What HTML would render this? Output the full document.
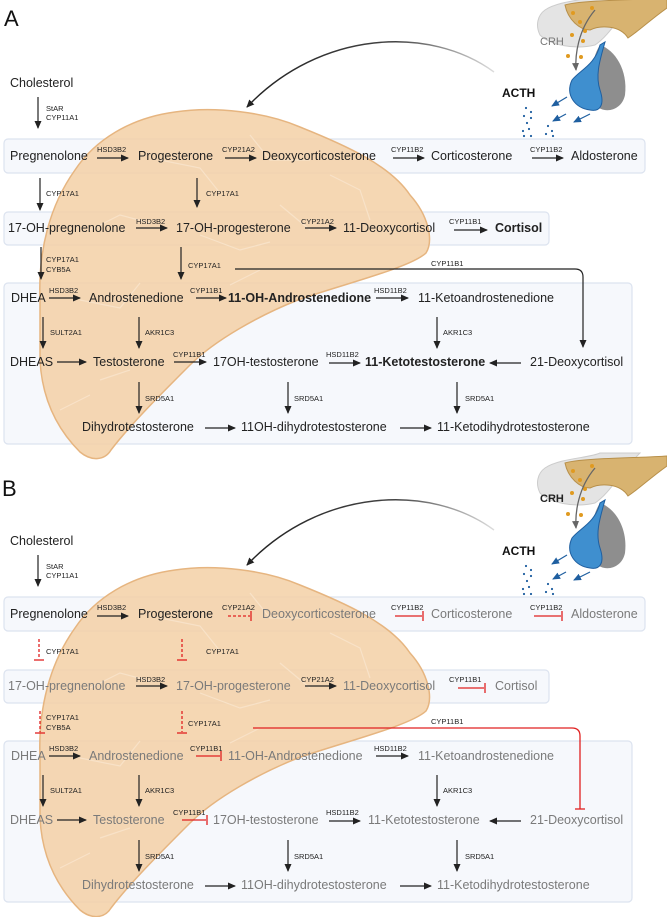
<!DOCTYPE html>
<html><head><meta charset="utf-8"><style>
html,body{margin:0;padding:0;background:#fff;overflow:hidden}
svg{display:block}
text{font-family:"Liberation Sans",Arial,sans-serif}
.n{font-size:12.5px;fill:#222}
.b{font-weight:bold}
.e{font-size:7.5px;fill:#222}
.g{fill:#7a7a7a}
</style></head><body>
<svg width="667" height="917" viewBox="0 0 667 917" xmlns="http://www.w3.org/2000/svg">
<defs>
<marker id="ah" markerWidth="8" markerHeight="8" refX="7" refY="4" orient="auto" markerUnits="userSpaceOnUse"><path d="M0,0.5 L8,4 L0,7.5 z" fill="#222"/></marker>
<marker id="bh" markerWidth="8" markerHeight="8" refX="7" refY="4" orient="auto" markerUnits="userSpaceOnUse"><path d="M0,0.5 L8,4 L0,7.5 z" fill="#1f5fa0"/></marker>
<marker id="gh" markerWidth="8" markerHeight="8" refX="7" refY="4" orient="auto" markerUnits="userSpaceOnUse"><path d="M0,0.5 L8,4 L0,7.5 z" fill="#666"/></marker>
<linearGradient id="cg" x1="0" x2="1"><stop offset="0" stop-color="#222"/><stop offset="0.6" stop-color="#444"/><stop offset="1" stop-color="#ddd"/></linearGradient>

<g id="boxes">
<rect x="4" y="139" width="641" height="34" rx="4" fill="#f6f8fc" stroke="#dce3ef" stroke-width="1.2"/>
<rect x="4" y="212" width="545" height="33" rx="4" fill="#f6f8fc" stroke="#dce3ef" stroke-width="1.2"/>
<rect x="4" y="283" width="628" height="161" rx="4" fill="#f6f8fc" stroke="#dce3ef" stroke-width="1.2"/>
</g>
<g id="blob">
<path d="M40,300 C38,250 50,205 75,170 C95,140 130,118 175,112 C215,106 265,112 300,127 C345,145 390,165 410,195 C428,215 434,240 426,253 C410,268 340,285 298,300 C260,315 215,340 190,365 C160,395 130,425 111,450 C105,460 92,462 80,452 C58,430 42,400 40,360 Z" fill="#f3d0a6" fill-opacity="0.85" stroke="#e6b580" stroke-width="1.5"/>
<path d="M90,230 l30,-15 30,8 M160,160 l40,8 20,25 M250,135 l20,25 40,0 M330,175 l30,15 10,30 M80,300 l40,8 20,-25 M100,380 l30,-10 M200,235 l40,15 30,-8 M280,205 l30,25 M60,410 l30,-15 M230,285 l30,-15" stroke="#f8e2c8" stroke-width="1.2" fill="none"/>
</g>
<g id="pit">
<path d="M545,10 C560,0 590,0 600,-5 L640,-5 C620,15 610,35 595,45 C575,50 550,45 540,35 C535,25 538,15 545,10 Z" fill="#e4e4e4" stroke="#ccc"/>
<path d="M565,5 C580,0 640,0 667,-2 L667,8 C650,20 640,30 628,38 C620,25 600,25 590,30 C580,30 568,20 565,5 Z" fill="#d8b370" stroke="#b8904a"/>
<path d="M600,45 C615,50 628,70 625,95 C622,110 605,115 595,105 C588,90 590,60 600,45 Z" fill="#8e8e8e"/>
<path d="M605,42 C600,60 595,75 600,90 C605,105 600,112 590,110 C575,108 565,95 572,80 C580,70 595,65 600,45 Z" fill="#3f8fcf" stroke="#1f5fa0"/>
<circle cx="573" cy="13" r="2" fill="#e09a20"/><circle cx="580" cy="22" r="2" fill="#e09a20"/><circle cx="572" cy="35" r="2" fill="#e09a20"/><circle cx="583" cy="41" r="2" fill="#e09a20"/><circle cx="568" cy="56" r="2" fill="#e09a20"/><circle cx="581" cy="57" r="2" fill="#e09a20"/><circle cx="592" cy="8" r="2" fill="#e09a20"/><circle cx="585" cy="31" r="2" fill="#e09a20"/>
<path d="M595,10 C578,30 575,55 576,70" stroke="#666" stroke-width="1.3" fill="none" marker-end="url(#gh)"/>
<g stroke="#1f5fa0" stroke-width="1.2" marker-end="url(#bh)"><line x1="567" y1="97" x2="552" y2="106"/><line x1="566" y1="114" x2="553" y2="121"/><line x1="590" y1="114" x2="574" y2="122"/></g>
<g fill="#1f5fa0"><circle cx="526" cy="108" r="1.1"/><circle cx="531" cy="112" r="1.1"/><circle cx="524" cy="116" r="1.1"/><circle cx="531" cy="118" r="1.1"/><circle cx="527" cy="123" r="1.1"/><circle cx="523" cy="131" r="1.1"/><circle cx="529" cy="129" r="1.1"/><circle cx="531" cy="136" r="1.1"/><circle cx="524" cy="136" r="1.1"/><circle cx="548" cy="126" r="1.1"/><circle cx="552" cy="131" r="1.1"/><circle cx="546" cy="134" r="1.1"/><circle cx="553" cy="136" r="1.1"/></g>
<text x="502" y="97" font-size="12" font-weight="bold" fill="#111">ACTH</text>
<path d="M494,72 C430,25 320,30 247,107" stroke="url(#cg)" stroke-width="1.4" fill="none" marker-end="url(#ah)"/>
</g>

<g id="ea">
<text class="e" x="46" y="111">StAR</text><text class="e" x="46" y="120">CYP11A1</text>
<text class="e" x="97" y="152">HSD3B2</text><text class="e" x="222" y="152">CYP21A2</text><text class="e" x="391" y="152">CYP11B2</text><text class="e" x="530" y="152">CYP11B2</text>
<text class="e" x="46" y="196">CYP17A1</text><text class="e" x="206" y="196">CYP17A1</text>
<text class="e" x="136" y="224">HSD3B2</text><text class="e" x="301" y="224">CYP21A2</text><text class="e" x="449" y="224">CYP11B1</text>
<text class="e" x="46" y="262">CYP17A1</text><text class="e" x="46" y="272">CYB5A</text><text class="e" x="188" y="268">CYP17A1</text><text class="e" x="431" y="266">CYP11B1</text>
<text class="e" x="49" y="293">HSD3B2</text><text class="e" x="190" y="293">CYP11B1</text><text class="e" x="374" y="293">HSD11B2</text>
<text class="e" x="50" y="335">SULT2A1</text><text class="e" x="145" y="335">AKR1C3</text><text class="e" x="443" y="335">AKR1C3</text>
<text class="e" x="173" y="357">CYP11B1</text><text class="e" x="326" y="357">HSD11B2</text>
<text class="e" x="145" y="401">SRD5A1</text><text class="e" x="294" y="401">SRD5A1</text><text class="e" x="465" y="401">SRD5A1</text>
</g>
</defs>

<!-- PANEL A -->
<text x="4" y="26" font-size="22" fill="#111">A</text>
<use href="#boxes"/><use href="#blob"/><use href="#pit"/>
<text x="540" y="45" font-size="11" fill="#777">CRH</text>
<g stroke="#222" stroke-width="1.2" marker-end="url(#ah)">
<line x1="38" y1="97" x2="38" y2="128"/>
<line x1="97" y1="158" x2="128" y2="158"/><line x1="225" y1="158" x2="256" y2="158"/><line x1="393" y1="158" x2="424" y2="158"/><line x1="532" y1="158" x2="563" y2="158"/>
<line x1="40" y1="178" x2="40" y2="210"/><line x1="197" y1="178" x2="197" y2="207"/>
<line x1="136" y1="228" x2="167" y2="228"/><line x1="305" y1="228" x2="336" y2="228"/><line x1="454" y1="230" x2="487" y2="230"/>
<line x1="41" y1="247" x2="41" y2="279"/><line x1="181" y1="247" x2="181" y2="279"/>
<line x1="49" y1="298" x2="80" y2="298"/><line x1="196" y1="298" x2="226" y2="298"/><line x1="376" y1="298" x2="408" y2="298"/>
<line x1="43" y1="317" x2="43" y2="348"/><line x1="139" y1="317" x2="139" y2="348"/><line x1="437" y1="317" x2="437" y2="348"/>
<line x1="57" y1="362" x2="86" y2="362"/><line x1="174" y1="362" x2="206" y2="362"/><line x1="329" y1="363" x2="360" y2="363"/><line x1="521" y1="363" x2="490" y2="363"/>
<line x1="139" y1="382" x2="139" y2="413"/><line x1="288" y1="382" x2="288" y2="413"/><line x1="457" y1="382" x2="457" y2="413"/>
<line x1="205" y1="428" x2="235" y2="428"/><line x1="400" y1="428" x2="431" y2="428"/>
<path d="M235,269 L575,269 Q583,269 583,277 L583,347" fill="none"/>
</g>
<use href="#ea"/>
<g>
<text class="n" x="10" y="87">Cholesterol</text>
<text class="n" x="10" y="160">Pregnenolone</text><text class="n" x="138" y="160">Progesterone</text><text class="n" x="262" y="160">Deoxycorticosterone</text><text class="n" x="431" y="160">Corticosterone</text><text class="n" x="571" y="160">Aldosterone</text>
<text class="n" x="8" y="232">17-OH-pregnenolone</text><text class="n" x="176" y="232">17-OH-progesterone</text><text class="n" x="343" y="232">11-Deoxycortisol</text><text class="n b" x="495" y="232">Cortisol</text>
<text class="n" x="11" y="302">DHEA</text><text class="n" x="89" y="302">Androstenedione</text><text class="n b" x="228" y="302">11-OH-Androstenedione</text><text class="n" x="418" y="302">11-Ketoandrostenedione</text>
<text class="n" x="10" y="366">DHEAS</text><text class="n" x="93" y="366">Testosterone</text><text class="n" x="213" y="366">17OH-testosterone</text><text class="n b" x="365" y="366">11-Ketotestosterone</text><text class="n" x="530" y="366">21-Deoxycortisol</text>
<text class="n" x="82" y="431">Dihydrotestosterone</text><text class="n" x="241" y="431">11OH-dihydrotestosterone</text><text class="n" x="437" y="431">11-Ketodihydrotestosterone</text>
</g>

<!-- PANEL B -->
<text x="2" y="496" font-size="22" fill="#111">B</text>
<g transform="translate(0,458)">
<use href="#boxes"/><use href="#blob"/><use href="#pit"/>
<text x="540" y="44" font-size="11" font-weight="bold" fill="#222">CRH</text>
<g stroke="#222" stroke-width="1.2" marker-end="url(#ah)">
<line x1="38" y1="97" x2="38" y2="128"/>
<line x1="97" y1="158" x2="128" y2="158"/>
<line x1="136" y1="228" x2="167" y2="228"/><line x1="305" y1="228" x2="336" y2="228"/>
<line x1="49" y1="298" x2="80" y2="298"/><line x1="376" y1="298" x2="408" y2="298"/>
<line x1="43" y1="317" x2="43" y2="348"/><line x1="139" y1="317" x2="139" y2="348"/><line x1="437" y1="317" x2="437" y2="348"/>
<line x1="57" y1="362" x2="86" y2="362"/><line x1="329" y1="363" x2="360" y2="363"/><line x1="521" y1="363" x2="490" y2="363"/>
<line x1="139" y1="382" x2="139" y2="413"/><line x1="288" y1="382" x2="288" y2="413"/><line x1="457" y1="382" x2="457" y2="413"/>
<line x1="205" y1="428" x2="235" y2="428"/><line x1="400" y1="428" x2="431" y2="428"/>
</g>
<g stroke="#e02020" stroke-width="1.3" fill="none">
<line x1="228" y1="158" x2="250" y2="158" stroke-dasharray="3,2"/><line x1="251" y1="153" x2="251" y2="163"/>
<line x1="395" y1="158" x2="422" y2="158"/><line x1="423" y1="153" x2="423" y2="163"/>
<line x1="534" y1="158" x2="561" y2="158"/><line x1="562" y1="153" x2="562" y2="163"/>
<line x1="39" y1="181" x2="39" y2="201" stroke-dasharray="3,2"/><line x1="34" y1="202" x2="44" y2="202"/>
<line x1="182" y1="181" x2="182" y2="201" stroke-dasharray="3,2"/><line x1="177" y1="202" x2="187" y2="202"/>
<line x1="458" y1="230" x2="484" y2="230"/><line x1="485" y1="225" x2="485" y2="235"/>
<line x1="40" y1="253" x2="40" y2="274" stroke-dasharray="3,2"/><line x1="35" y1="275" x2="45" y2="275"/>
<line x1="182" y1="253" x2="182" y2="274" stroke-dasharray="3,2"/><line x1="177" y1="275" x2="187" y2="275"/>
<line x1="196" y1="298" x2="220" y2="298"/><line x1="221" y1="293" x2="221" y2="303"/>
<line x1="182" y1="362" x2="206" y2="362"/><line x1="207" y1="357" x2="207" y2="367"/>
<path d="M253,270 L572,270 Q580,270 580,278 L580,351"/><line x1="575" y1="351" x2="585" y2="351"/>
</g>
<use href="#ea"/>
<g>
<text class="n" x="10" y="87">Cholesterol</text>
<text class="n" x="10" y="160">Pregnenolone</text><text class="n" x="138" y="160">Progesterone</text><text class="n g" x="262" y="160">Deoxycorticosterone</text><text class="n g" x="431" y="160">Corticosterone</text><text class="n g" x="571" y="160">Aldosterone</text>
<text class="n g" x="8" y="232">17-OH-pregnenolone</text><text class="n g" x="176" y="232">17-OH-progesterone</text><text class="n g" x="343" y="232">11-Deoxycortisol</text><text class="n g" x="495" y="232">Cortisol</text>
<text class="n g" x="11" y="302">DHEA</text><text class="n g" x="89" y="302">Androstenedione</text><text class="n g" x="228" y="302">11-OH-Androstenedione</text><text class="n g" x="418" y="302">11-Ketoandrostenedione</text>
<text class="n g" x="10" y="366">DHEAS</text><text class="n g" x="93" y="366">Testosterone</text><text class="n g" x="213" y="366">17OH-testosterone</text><text class="n g" x="368" y="366">11-Ketotestosterone</text><text class="n g" x="530" y="366">21-Deoxycortisol</text>
<text class="n g" x="82" y="431">Dihydrotestosterone</text><text class="n g" x="241" y="431">11OH-dihydrotestosterone</text><text class="n g" x="437" y="431">11-Ketodihydrotestosterone</text>
</g>
</g>
</svg>
</body></html>
